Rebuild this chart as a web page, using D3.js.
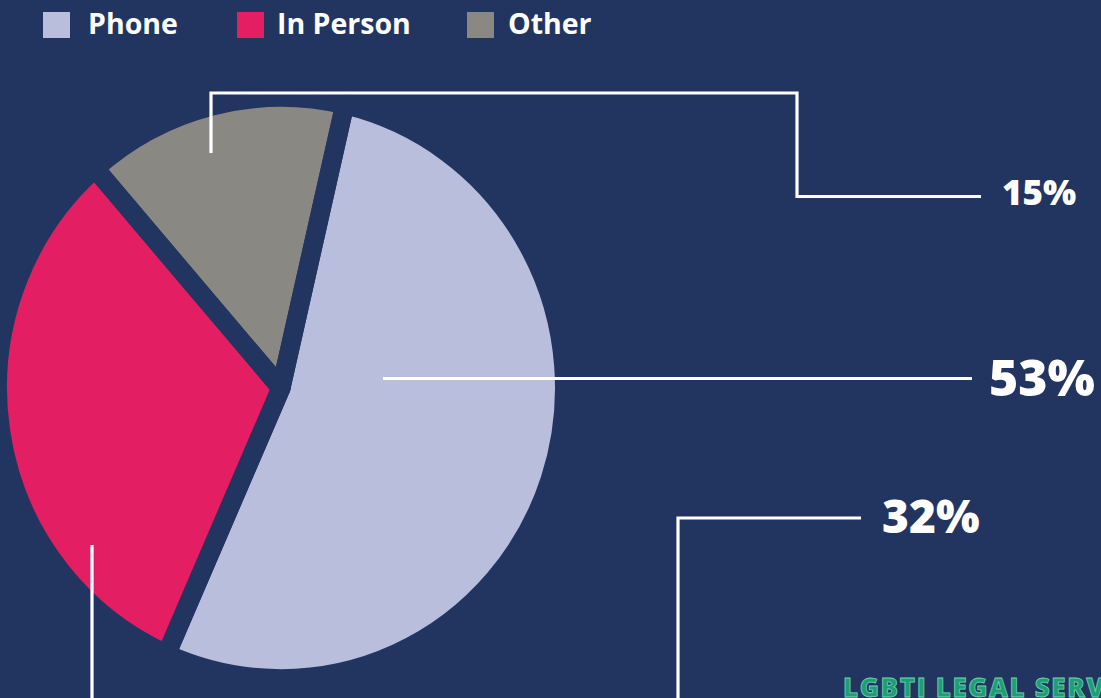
<!DOCTYPE html>
<html><head><meta charset="utf-8">
<script src="https://cdn.jsdelivr.net/npm/d3@7"></script>
<style>html,body{margin:0;padding:0;background:#213560;overflow:hidden}</style>
</head><body>
<svg id="chart" width="1101" height="698"></svg>
<script>
const categories = ["Phone", "In Person", "Other"];
const values = [53, 32, 15];
const valueLabels = ["53%", "32%", "15%"];
const colors = ["#b8bedb", "#e31e63", "#8a8882"];
const footerText = "LGBTI LEGAL SERVICE";

const W = 1101, H = 698, bg = "#213560";
const svg = d3.select("#chart");
svg.append("rect").attr("width", W).attr("height", H).attr("fill", bg);

// pie
const cx = 281, cy = 388, R = 283.5, gap = 19;
const a0 = 13 * Math.PI / 180;
const pie = d3.pie().sort(null).value(d => d.v).startAngle(a0).endAngle(a0 + 2 * Math.PI);
const arcs = pie(categories.map((c, i) => ({c, v: values[i]})));
const arc = d3.arc().innerRadius(0).outerRadius(R);
const g = svg.append("g").attr("transform", `translate(${cx},${cy}) scale(1,1.026)`);
g.selectAll("path.slice").data(arcs).join("path").attr("class", "slice")
  .attr("d", arc).attr("fill", (d, i) => colors[i]);
g.selectAll("path.gap").data(arcs).join("path").attr("class", "gap")
  .attr("d", arc).attr("fill", "none").attr("stroke", bg)
  .attr("stroke-width", gap).attr("stroke-linejoin", "round");

// leader lines
const leaders = [
  {pts: [[383, 378.5], [972, 378.5]], label: valueLabels[0], lx: 989, ly: 396, fs: 50},
  {pts: [[92, 545], [92, 740], [678, 740], [678, 518], [861, 518]], label: valueLabels[1], lx: 882, ly: 533, fs: 46},
  {pts: [[211, 153], [211, 93], [797, 93], [797, 196.5], [981, 196.5]], label: valueLabels[2], lx: 1002, ly: 205, fs: 35}
];
const line = d3.line();
svg.selectAll("path.leader").data(leaders).join("path").attr("class", "leader")
  .attr("d", d => line(d.pts)).attr("fill", "none").attr("stroke", "#ffffff")
  .attr("stroke-width", 3.2).attr("stroke-linejoin", "miter");
svg.selectAll("text.val").data(leaders).join("text").attr("class", "val")
  .attr("x", d => d.lx).attr("y", d => d.ly).text(d => d.label)
  .attr("fill", "#ffffff").attr("font-family", "'Open Sans', sans-serif")
  .attr("font-weight", 800).attr("font-size", d => d.fs);

// legend
const legendX = [43, 237, 467];
const legendTextX = [88, 277, 508];
svg.selectAll("rect.leg").data(categories).join("rect").attr("class", "leg")
  .attr("x", (d, i) => legendX[i]).attr("y", 12)
  .attr("width", 27).attr("height", 26).attr("fill", (d, i) => colors[i]);
svg.selectAll("text.leg").data(categories).join("text").attr("class", "leg")
  .attr("x", (d, i) => legendTextX[i]).attr("y", 34).text(d => d)
  .attr("fill", "#ffffff").attr("font-family", "'Open Sans', sans-serif")
  .attr("font-weight", 700).attr("font-size", 28.5);

// footer
svg.append("text").attr("x", 843).attr("y", 697).text(footerText)
  .attr("fill", "#1f9e76").attr("stroke", "#6fd4ad").attr("stroke-width", 0.8)
  .attr("font-family", "'Open Sans', sans-serif").attr("font-weight", 800)
  .attr("font-size", 26).attr("letter-spacing", 1.6);
</script>
</body></html>
